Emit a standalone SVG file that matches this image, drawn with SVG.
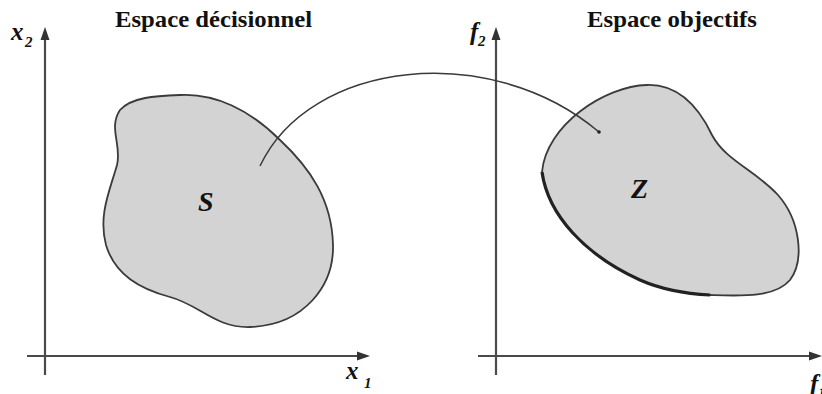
<svg xmlns="http://www.w3.org/2000/svg" width="822" height="394" viewBox="0 0 822 394">
<defs>
<style>
.axis{stroke:#4a4a4a;stroke-width:2.2;fill:none}
.head{fill:#333}
.region{fill:#d3d3d4;stroke:#3a3a3a;stroke-width:1.8}
.title{font-family:"Liberation Serif",serif;font-weight:bold;font-size:23px;fill:#111}
.var{font-family:"Liberation Serif",serif;font-weight:bold;font-style:italic;fill:#111}
.map{fill:none;stroke:#3a3a3a;stroke-width:1.5}
</style>
</defs>
<rect width="822" height="394" fill="#fff"/>
<g id="titles">
<text class="title" x="115" y="27" textLength="197" lengthAdjust="spacingAndGlyphs">Espace décisionnel</text>
<text class="title" x="587" y="27" textLength="170" lengthAdjust="spacingAndGlyphs">Espace objectifs</text>
</g>
<g id="axes-decision">
<line class="axis" x1="45" y1="36" x2="45" y2="375"/>
<line class="axis" x1="27" y1="356" x2="362" y2="356"/>
<polygon class="head" points="45,27 40.5,40 49.5,40"/>
<polygon class="head" points="370,356 357,351.5 357,360.5"/>
<text class="var" x="11" y="40" font-size="25">x</text>
<text class="var" x="25" y="47" font-size="15">2</text>
<text class="var" x="346" y="379" font-size="25">x</text>
<text class="var" x="364" y="388" font-size="15">1</text>
</g>
<g id="axes-objective">
<line class="axis" x1="496" y1="36" x2="496" y2="375"/>
<line class="axis" x1="478" y1="356" x2="814" y2="356"/>
<polygon class="head" points="496,27 491.5,40 500.5,40"/>
<polygon class="head" points="822,356 809,351.5 809,360.5"/>
<text class="var" x="470" y="40" font-size="25">f</text>
<text class="var" x="478" y="46" font-size="15">2</text>
<text class="var" x="810" y="392" font-size="25">f</text>
<text class="var" x="818" y="398" font-size="15">1</text>
</g>
<g id="S">
<path class="region" d="M180,95 C215,93 250,110 280,140 C310,168 332,200 333,245 C334,285 305,325 250,327 C215,328 200,305 170,297 C140,289 115,275 106,245 C98,215 110,190 117,165 C122,145 108,128 120,110 C132,97 155,96 180,95 Z"/>
<text class="var" x="198" y="211" font-size="28">S</text>
</g>
<g id="Z">
<path class="region" d="M542,172 C548,215 585,255 640,280 C665,291 690,294 710,295 C740,296 775,298 790,280 C805,260 800,220 778,195 C755,170 725,160 712,135 C700,110 680,84 647,85 C605,86 546,125 542,172 Z"/>
<path d="M542,172 C548,215 585,255 640,280 C665,291 690,294 710,295" fill="none" stroke="#222" stroke-width="3.2"/>
<text class="var" x="631" y="198" font-size="28">Z</text>
</g>
<g id="connectors">
<path class="map" d="M260,166 C310,60 490,40 599,132"/>
<circle cx="599" cy="132" r="1.8" fill="#222"/>
</g>
</svg>
